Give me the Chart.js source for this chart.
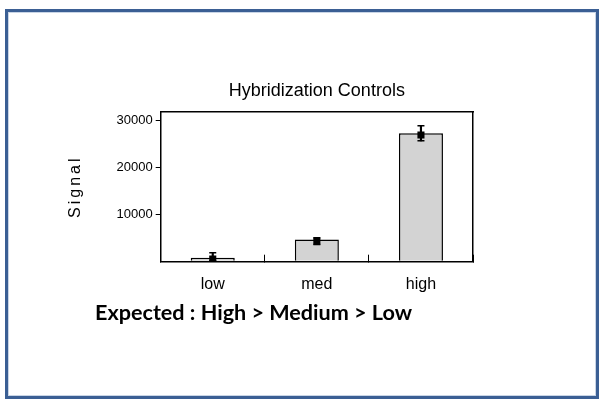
<!DOCTYPE html>
<html>
<head>
<meta charset="utf-8">
<script src="https://cdn.jsdelivr.net/npm/chart.js@4.4.1/dist/chart.umd.min.js"></script>
<style>
  html, body { margin: 0; padding: 0; background: #fff; }
  #wrap { position: relative; width: 603px; height: 402px; overflow: hidden; }
  #box { position: absolute; left: 0; top: 0; width: 603px; height: 402px; }
  #frame {
    position: absolute; left: 5px; top: 9px; width: 588px; height: 384px;
    border: 3px solid #3b5f94; box-shadow: inset 0 0 0 1px #c9d5e6;
    pointer-events: none;
  }
  #expected {
    position: absolute; left: 95px; top: 302px;
    font: bold 21.6px Lato, "Open Sans", sans-serif; line-height: 1; color: #000;
    white-space: nowrap;
  }
</style>
</head>
<body>
<div id="wrap">
  <div id="box"><canvas id="grafico"></canvas></div>
  <div id="frame"></div>
  <div id="expected">Expected : High &gt; Medium &gt; Low</div>
</div>
<script>
// dados
const categorias = ['low', 'med', 'high'];
const valoresBarra = [620, 4570, 27300];
const valoresMedia = [350, 4200, 26930];
const erroSuperior = [1700, 4910, 28870];
const erroInferior = [0, 3500, 25660];
const ticksY = [10000, 20000, 30000];

// espaçamento entre letras no titulo do eixo Y
const espacoTitulo = {
    id: 'espacoTitulo',
    beforeDraw(chart) {
        const s = chart.scales.y;
        if (s && !s._espaco) {
            const orig = s.drawTitle;
            s.drawTitle = function() {
                const c = this.ctx;
                c.save();
                c.letterSpacing = '3px';
                orig.apply(this, arguments);
                c.restore();
            };
            s._espaco = true;
        }
    }
};

const fonte = '"Liberation Sans", Arial, sans-serif';
const ctx = document.getElementById('grafico').getContext('2d');
new Chart(ctx, {
    type: 'bar',
    data: {
        labels: categorias,
        datasets: [
            {
                label: 'sinal',
                data: valoresBarra,
                backgroundColor: '#d3d3d3',
                borderColor: '#000',
                borderWidth: 1.5,
                barPercentage: 0.423,
                categoryPercentage: 1,
                grouped: false,
                order: 4,
                xAxisID: 'x', yAxisID: 'y'
            },
            {
                label: 'erro',
                data: categorias.map((c, i) => [erroInferior[i], erroSuperior[i]]),
                backgroundColor: '#000',
                borderWidth: 0,
                barThickness: 1.5,
                grouped: false,
                order: 3,
                xAxisID: 'x', yAxisID: 'y'
            },
            {
                type: 'line',
                label: 'limite sup',
                data: erroSuperior,
                showLine: false,
                pointStyle: 'line',
                pointRadius: 3.5,
                borderColor: '#000',
                borderWidth: 1.5,
                order: 2,
                xAxisID: 'x', yAxisID: 'y'
            },
            {
                type: 'line',
                label: 'limite inf',
                data: erroInferior,
                showLine: false,
                pointStyle: 'line',
                pointRadius: 3.5,
                borderColor: '#000',
                borderWidth: 1.5,
                order: 2,
                xAxisID: 'x', yAxisID: 'y'
            },
            {
                type: 'line',
                label: 'media',
                data: valoresMedia,
                showLine: false,
                pointStyle: 'rect',
                pointRadius: 5,
                backgroundColor: '#000',
                borderColor: '#000',
                borderWidth: 0,
                order: 1,
                xAxisID: 'x', yAxisID: 'y'
            }
        ]
    },
    options: {
        responsive: true,
        maintainAspectRatio: false,
        animation: false,
        layout: { padding: { left: 66, right: 130, top: 80, bottom: 0 } },
        scales: {
            x: {
                position: 'bottom',
                offset: true,
                grid: { offset: true, drawOnChartArea: false, tickLength: -7, color: '#000', lineWidth: 1 },
                border: { color: '#000', width: 1.5 },
                ticks: { padding: 20.7, color: '#000', font: { family: fonte, size: 16 } },
                afterFit: s => { s.height = 140.3; }
            },
            y: {
                position: 'left',
                min: -200,
                max: 31900,
                afterBuildTicks: s => { s.ticks = ticksY.map(v => ({ value: v })); },
                grid: { drawOnChartArea: false, tickLength: 5, color: '#000', lineWidth: 1 },
                border: { color: '#000', width: 1.5 },
                ticks: { padding: 3, color: '#000', font: { family: fonte, size: 13 }, callback: v => String(v) },
                title: { display: true, text: 'Signal', color: '#000', padding: 0, font: { family: fonte, size: 16 } },
                afterFit: s => { s.width = 94.7; }
            },
            x2: {
                type: 'linear',
                position: 'top',
                grid: { display: false },
                ticks: { display: false },
                border: { color: '#000', width: 1.5 },
                afterFit: s => { s.height = 0; }
            },
            y2: {
                type: 'linear',
                position: 'right',
                grid: { display: false },
                ticks: { display: false },
                border: { color: '#000', width: 1.5 },
                afterFit: s => { s.width = 0; }
            }
        },
        plugins: {
            legend: { display: false },
            tooltip: { enabled: false },
            title: {
                display: true,
                text: 'Hybridization Controls',
                position: 'top',
                fullSize: false,
                color: '#000',
                padding: { top: 0, bottom: 10.1 },
                font: { family: fonte, size: 18, weight: 'normal' }
            }
        }
    },
    plugins: [espacoTitulo]
});
</script>
</body>
</html>
